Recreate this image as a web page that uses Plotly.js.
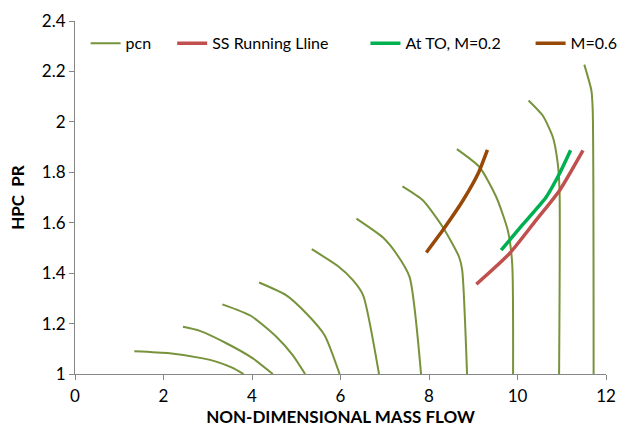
<!DOCTYPE html>
<html>
<head>
<meta charset="utf-8">
<script src="https://cdn.plot.ly/plotly-3.0.1.min.js"></script>
<style>html,body{margin:0;padding:0;background:#fff}#chart{width:632px;height:434px}</style>
</head>
<body>
<div id="chart"></div>
<script>
// pcn speed lines (x = non-dimensional mass flow, y = HPC PR)
var pcnX = [
  [1.34, 2.14, 2.89, 3.19, 3.55, 3.81],
  [2.44, 2.82, 3.42, 4.02, 4.47],
  [3.33, 3.98, 4.55, 4.92, 5.20],
  [4.16, 4.77, 5.23, 5.64, 5.98],
  [5.35, 5.94, 6.28, 6.51, 6.87],
  [6.36, 6.96, 7.26, 7.56, 7.82],
  [7.40, 7.86, 8.31, 8.68, 8.75, 8.86],
  [8.63, 9.14, 9.52, 9.78, 9.88, 9.90],
  [10.25, 10.57, 10.80, 10.91, 10.95, 10.94],
  [11.51, 11.67, 11.70, 11.72]
];
var pcnY = [
  [1.090, 1.082, 1.062, 1.049, 1.025, 1.000],
  [1.187, 1.171, 1.122, 1.062, 1.000],
  [1.276, 1.230, 1.148, 1.075, 1.000],
  [1.363, 1.313, 1.240, 1.154, 1.000],
  [1.495, 1.428, 1.372, 1.313, 1.000],
  [1.616, 1.541, 1.478, 1.385, 1.000],
  [1.744, 1.689, 1.583, 1.464, 1.412, 1.000],
  [1.892, 1.821, 1.702, 1.570, 1.438, 1.000],
  [2.085, 2.025, 1.939, 1.834, 1.728, 1.000],
  [2.227, 2.124, 2.045, 1.000]
];
// SS running line
var ssX = [9.07, 9.82, 10.42, 10.95, 11.48];
var ssY = [1.356, 1.478, 1.610, 1.728, 1.887];
// At TO, M=0.2
var toX = [9.63, 10.12, 10.65, 10.95, 11.20];
var toY = [1.491, 1.593, 1.702, 1.795, 1.887];
// M=0.6
var m6X = [7.94, 8.31, 8.77, 9.11, 9.32];
var m6Y = [1.482, 1.570, 1.689, 1.795, 1.889];

var xTicks = [0, 2, 4, 6, 8, 10, 12];
var yTicks = [1, 1.2, 1.4, 1.6, 1.8, 2, 2.2, 2.4];
var yTickText = ['1', '1.2', '1.4', '1.6', '1.8', '2', '2.2', '2.4'];

var FONT = 'Lato, "Open Sans", sans-serif';
var traces = [];
for (var i = 0; i < pcnX.length; i++) {
  traces.push({
    x: pcnX[i], y: pcnY[i], mode: 'lines', type: 'scatter',
    name: 'pcn', legendgroup: 'pcn', showlegend: i === 0, legend: 'legend',
    line: {color: '#77933C', width: 2, shape: 'spline', smoothing: 0.6}, hoverinfo: 'skip'
  });
}
traces.push({x: ssX, y: ssY, mode: 'lines', name: 'SS Running Lline', legend: 'legend2',
  line: {color: '#C0504D', width: 3.5, shape: 'spline', smoothing: 0.6}});
traces.push({x: toX, y: toY, mode: 'lines', name: 'At TO, M=0.2', legend: 'legend3',
  line: {color: '#00B050', width: 3.5, shape: 'spline', smoothing: 0.6}});
traces.push({x: m6X, y: m6Y, mode: 'lines', name: 'M=0.6', legend: 'legend4',
  line: {color: '#984807', width: 3.5, shape: 'spline', smoothing: 0.6}});

function lg(x) {
  return {x: x, y: 0.985, xanchor: 'left', yanchor: 'top', orientation: 'h',
    bgcolor: 'rgba(0,0,0,0)', font: {family: FONT, size: 16, color: '#000'}};
}

var layout = {
  width: 632, height: 434,
  margin: {l: 75, r: 26, t: 21, b: 60, autoexpand: false},
  paper_bgcolor: '#fff', plot_bgcolor: '#fff',
  font: {family: FONT, size: 16, color: '#000'},
  showlegend: true,
  legend: lg(0.02),
  legend2: lg(0.183),
  legend3: lg(0.547),
  legend4: lg(0.858),
  xaxis: {
    range: [0, 12], tickvals: xTicks, ticktext: xTicks.map(String),
    showline: true, linecolor: '#868686', linewidth: 1,
    ticks: 'outside', ticklen: 5, tickcolor: '#868686',
    showgrid: false, zeroline: false, ticklabelstandoff: 2,
    tickfont: {family: FONT, size: 17},
    title: {text: '<b>NON-DIMENSIONAL MASS FLOW</b>', font: {family: FONT, size: 17}, standoff: 0}
  },
  yaxis: {
    range: [1, 2.4], tickvals: yTicks, ticktext: yTickText,
    showline: true, linecolor: '#868686', linewidth: 1,
    ticks: 'outside', ticklen: 5, tickcolor: '#868686',
    showgrid: false, zeroline: false,
    tickfont: {family: FONT, size: 17},
    title: {text: '<b>HPC  PR</b>', font: {family: FONT, size: 17}, standoff: 12}
  }
};

Plotly.newPlot('chart', traces, layout, {staticPlot: true, displayModeBar: false});
</script>
</body>
</html>
